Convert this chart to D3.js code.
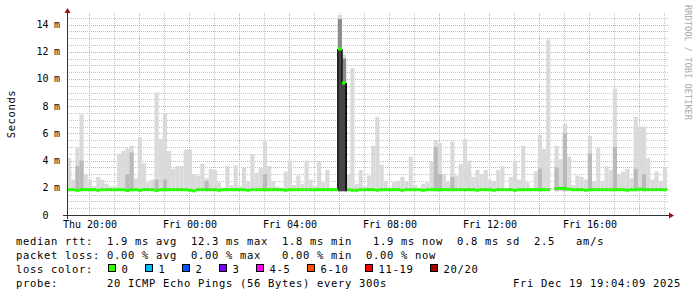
<!DOCTYPE html>
<html>
<head>
<meta charset="utf-8">
<script src="https://cdn.jsdelivr.net/npm/d3@7"></script>
<style>
  body{margin:0;background:#fff;}
  svg{display:block;}
  text{font-family:"DejaVu Sans Mono",monospace;white-space:pre;}
</style>
</head>
<body>
<div id="canvas"></div>
<script>
//smokeping data, one value every 10 minutes (milliseconds)
var smokeMax = [4.2,2.6,5.0,7.4,3.0,2.6,2.1,2.8,2.6,2.3,
    2.1,2.1,4.5,4.7,4.9,5.1,2.7,5.7,3.8,2.4,
    2.6,9.0,5.6,7.5,4.7,3.4,3.6,3.6,4.8,4.8,
    3.0,2.9,3.75,2.7,3.4,3.3,2.4,2.0,3.6,2.2,
    3.65,2.1,3.5,2.5,4.45,3.1,3.5,5.4,3.6,2.5,
    2.1,2.0,3.2,4.0,2.2,2.9,2.3,4.0,2.6,2.1,
    3.9,2.4,3.3,2.0,2.0,14.7,11.8,3.0,10.8,2.3,
    3.3,2.1,2.9,5.1,7.2,3.7,2.5,2.0,2.4,2.5,
    2.8,2.5,4.3,2.2,2.0,2.3,2.4,3.9,5.5,5.3,
    3.0,2.5,5.4,2.9,3.75,5.6,4.0,2.8,3.3,3.0,
    3.3,2.6,2.5,3.3,3.6,2.0,2.8,4.0,2.6,5.1,
    2.4,2.0,3.2,5.9,4.85,12.9,null,5.1,4.1,6.7,
    4.3,2.2,2.9,2.8,2.6,5.8,2.5,4.9,2.5,3.6,
    3.3,9.3,3.0,3.2,3.4,2.7,7.2,6.5,6.5,4.2,
    2.6,3.2,2.5,3.5];

var median = [1.86,1.86,1.82,1.86,1.86,1.86,1.86,1.82,1.86,1.86,
    1.86,1.86,1.86,1.86,1.8,1.86,1.86,1.82,1.86,1.86,
    1.86,1.8,1.86,1.86,1.86,1.86,1.86,1.86,1.86,1.82,
    1.78,1.86,1.86,1.86,1.86,1.86,1.82,1.86,1.86,1.86,
    1.86,1.86,1.86,1.82,1.86,1.86,1.86,1.86,1.86,1.86,
    1.86,1.86,1.82,1.86,1.86,1.86,1.86,1.86,1.86,1.86,
    1.86,1.86,1.86,1.86,1.86,12.2,9.7,1.86,1.82,1.82,
    1.86,1.86,1.86,1.86,1.82,1.86,1.86,1.86,1.86,1.86,
    1.82,1.86,1.86,1.86,1.86,1.82,1.86,1.86,1.86,1.86,
    1.86,1.86,1.86,1.86,1.86,1.86,1.86,1.86,1.82,1.86,
    1.86,1.86,1.82,1.86,1.86,1.86,1.86,1.82,1.86,1.86,
    1.86,1.86,1.86,1.86,1.86,1.86,null,1.95,1.95,1.95,
    1.9,1.86,1.86,1.86,1.82,1.86,1.86,1.86,1.86,1.86,
    1.86,1.86,1.86,1.86,1.82,1.86,1.86,1.9,1.86,1.86,
    1.86,1.86,1.86,1.86];

//denser smoke (darker grey)
var midBins = [2,3,14,15,21,23,33,47,88,89,92,113,117,119,125,131,136,138];
var midVals = [3.6,4.0,3.0,4.6,2.6,2.6,2.5,3.0,5.0,3.0,2.8,3.4,3.5,6.0,4.5,5.0,3.4,3.0];
//the spike around 05:00
var spikeBins = [65,66];
var spikeGrey = [14.4,11.5];
var spikeDark = [12.2,9.7];

var yTicks = [0,2,4,6,8,10,12,14];

var lossLabels = ['0','1','2','3','4-5','6-10','11-19','20/20'];
var lossColors = ['#26ff00','#00b8ff','#0059ff','#7b00ff','#ff00ee','#ff5500','#ff0000','#a10000'];

var legendLines = [
    'median rtt:  1.9 ms avg  12.3 ms max  1.8 ms min   1.9 ms now  0.8 ms sd  2.5   am/s',
    'packet loss: 0.00 % avg  0.00 % max   0.00 % min  0.00 % now'
];

var W = 697, H = 297;
var m = {t:15,r:30,b:82,l:67};
var w = W - m.l - m.r, h = H - m.t - m.b;

var svg = d3.select('#canvas')
    .append('svg')
    .attr('width',W)
    .attr('height',H);

var t0 = new Date(2025,11,18,19,7,12),
    t1 = new Date(2025,11,19,19,7,12);
var step = 10*60*1000;

var ScaleX = d3.scaleTime().domain([t0,t1]).range([m.l, m.l+w]);
var ScaleY = d3.scaleLinear().domain([0,14.7]).range([m.t+h, m.t]);

function binStart(i){ return ScaleX(new Date(t0.getTime()+i*step)); }
function binEnd(i){ return ScaleX(new Date(t0.getTime()+(i+1)*step)); }

//grid
var grid = svg.append('g').attr('class','grid');
var minorY = d3.range(0.5,14.7,0.5).filter(function(v){return v%2!==0;});
grid.selectAll('.hminor').data(minorY).enter().append('line')
    .attr('x1',m.l).attr('x2',m.l+w+1)
    .attr('y1',function(d){return Math.round(ScaleY(d))+0.5;})
    .attr('y2',function(d){return Math.round(ScaleY(d))+0.5;})
    .attr('stroke','#c4c4c4').attr('stroke-dasharray','1,1');
var minorX = ScaleX.ticks(d3.timeHour.every(1)).filter(function(d){return d.getHours()%2!==0;});
grid.selectAll('.vminor').data(minorX).enter().append('line')
    .attr('x1',function(d){return Math.round(ScaleX(d))+0.5;})
    .attr('x2',function(d){return Math.round(ScaleX(d))+0.5;})
    .attr('y1',m.t-2).attr('y2',m.t+h)
    .attr('stroke','#c4c4c4').attr('stroke-dasharray','1,1');
grid.selectAll('.hmajor').data(yTicks.slice(1)).enter().append('line')
    .attr('x1',m.l).attr('x2',m.l+w+1)
    .attr('y1',function(d){return Math.round(ScaleY(d))+0.5;})
    .attr('y2',function(d){return Math.round(ScaleY(d))+0.5;})
    .attr('stroke','#e8a0a0').attr('stroke-dasharray','1,1');
var majorX = ScaleX.ticks(d3.timeHour.every(2));
grid.selectAll('.vmajor').data(majorX).enter().append('line')
    .attr('x1',function(d){return Math.round(ScaleX(d))+0.5;})
    .attr('x2',function(d){return Math.round(ScaleX(d))+0.5;})
    .attr('y1',m.t-2).attr('y2',m.t+h)
    .attr('stroke','#e8a0a0').attr('stroke-dasharray','1,1');

//smoke
var base = 1.75;
var plot = svg.append('g');
function bar(i,v,col){
    plot.append('rect')
        .attr('x',binStart(i))
        .attr('width',binEnd(i)-binStart(i))
        .attr('y',ScaleY(v))
        .attr('height',ScaleY(base)-ScaleY(v))
        .attr('fill',col);
}
smokeMax.forEach(function(v,i){
    if(v!==null) bar(i,v,'#dadada');
});
midBins.forEach(function(b,k){ bar(b,midVals[k],'#bababa'); });
spikeBins.forEach(function(b,k){
    bar(b,spikeGrey[k],'#8c8c8c');
    bar(b,spikeDark[k],'#464646');
});

//median, vertical jumps in black, steps in loss colour
median.forEach(function(v,i){
    if(v===null) return;
    var prev = median[i-1];
    if(prev!=null && Math.abs(prev-v)>1){
        plot.append('line')
            .attr('x1',binStart(i)).attr('x2',binStart(i))
            .attr('y1',ScaleY(prev)).attr('y2',ScaleY(v))
            .attr('stroke','#111').attr('stroke-width',1.5);
    }
});
median.forEach(function(v,i){
    if(v===null) return;
    plot.append('line')
        .attr('x1',binStart(i)).attr('x2',binEnd(i))
        .attr('y1',ScaleY(v)).attr('y2',ScaleY(v))
        .attr('stroke',lossColors[0]).attr('stroke-width',3);
});
//closing edge of the spike
plot.append('line')
    .attr('x1',binEnd(66)).attr('x2',binEnd(66))
    .attr('y1',ScaleY(median[66])).attr('y2',ScaleY(base))
    .attr('stroke','#111').attr('stroke-width',1.5);

//axes
var axisCol = '#333';
svg.append('line').attr('x1',m.l-4).attr('x2',m.l+w+3)
    .attr('y1',m.t+h+0.5).attr('y2',m.t+h+0.5).attr('stroke',axisCol);
svg.append('line').attr('x1',m.l+0.5).attr('x2',m.l+0.5)
    .attr('y1',m.t-3).attr('y2',m.t+h+4).attr('stroke',axisCol);
svg.append('path').attr('d','M'+(m.l+w+2)+','+(m.t+h-2.5)+'L'+(m.l+w+7)+','+(m.t+h+0.5)+'L'+(m.l+w+2)+','+(m.t+h+3.5)+'Z')
    .attr('fill','#9a1010');
svg.append('path').attr('d','M'+(m.l-2.5)+','+(m.t-2)+'L'+(m.l+0.5)+','+(m.t-7)+'L'+(m.l+3.5)+','+(m.t-2)+'Z')
    .attr('fill','#9a1010');

//x labels
svg.selectAll('.xlab').data(ScaleX.ticks(d3.timeHour.every(4))).enter().append('text')
    .attr('x',function(d){return ScaleX(d)+1;})
    .attr('y',227.5)
    .attr('text-anchor','middle')
    .attr('font-size',10)
    .attr('fill','#000')
    .text(d3.timeFormat('%a %H:%M'));

//y labels
svg.selectAll('.ylab').data(yTicks).enter().append('text')
    .attr('x',48.5)
    .attr('y',function(d){return ScaleY(d)+3.5;})
    .attr('text-anchor','end')
    .attr('font-size',10)
    .text(function(d){return d;});
svg.selectAll('.yunit').data(yTicks.slice(1)).enter().append('text')
    .attr('x',54)
    .attr('y',function(d){return ScaleY(d)+3.5;})
    .attr('font-size',10)
    .text('m');

svg.append('text')
    .attr('transform','translate(15,114) rotate(-90)')
    .attr('text-anchor','middle')
    .attr('font-size',10.5)
    .attr('letter-spacing',0.6)
    .text('Seconds');

svg.append('text')
    .attr('transform','translate(684.5,5) rotate(90)')
    .attr('font-size',8.7)
    .attr('fill','#aaa')
    .text('RRDTOOL / TOBI OETIKER');

//legend, monospace columns of 7px
var charW = 7;
var lg = svg.append('g').attr('font-size',10.5).attr('letter-spacing',0.68);
var baseY = [244.5,258.8,272.8,286.8];
legendLines.forEach(function(s,i){
    lg.append('text').attr('x',16).attr('y',baseY[i]).text(s);
});
lg.append('text').attr('x',16).attr('y',baseY[2]).text('loss color:');
var bx = 108;
lossLabels.forEach(function(l,i){
    lg.append('rect').attr('x',bx+0.5).attr('y',264.5).attr('width',7).attr('height',7)
        .attr('fill',lossColors[i]).attr('stroke','#000');
    lg.append('text').attr('x',bx+13.5).attr('y',baseY[2]).text(l);
    bx = bx + 13.5 + l.length*charW + 16.5;
});
lg.append('text').attr('x',16).attr('y',baseY[3]).text('probe:');
lg.append('text').attr('x',16+13*charW).attr('y',baseY[3]).text('20 ICMP Echo Pings (56 Bytes) every 300s');
lg.append('text').attr('x',16+71*charW).attr('y',baseY[3]).text('Fri Dec 19 19:04:09 2025');
</script>
</body>
</html>
